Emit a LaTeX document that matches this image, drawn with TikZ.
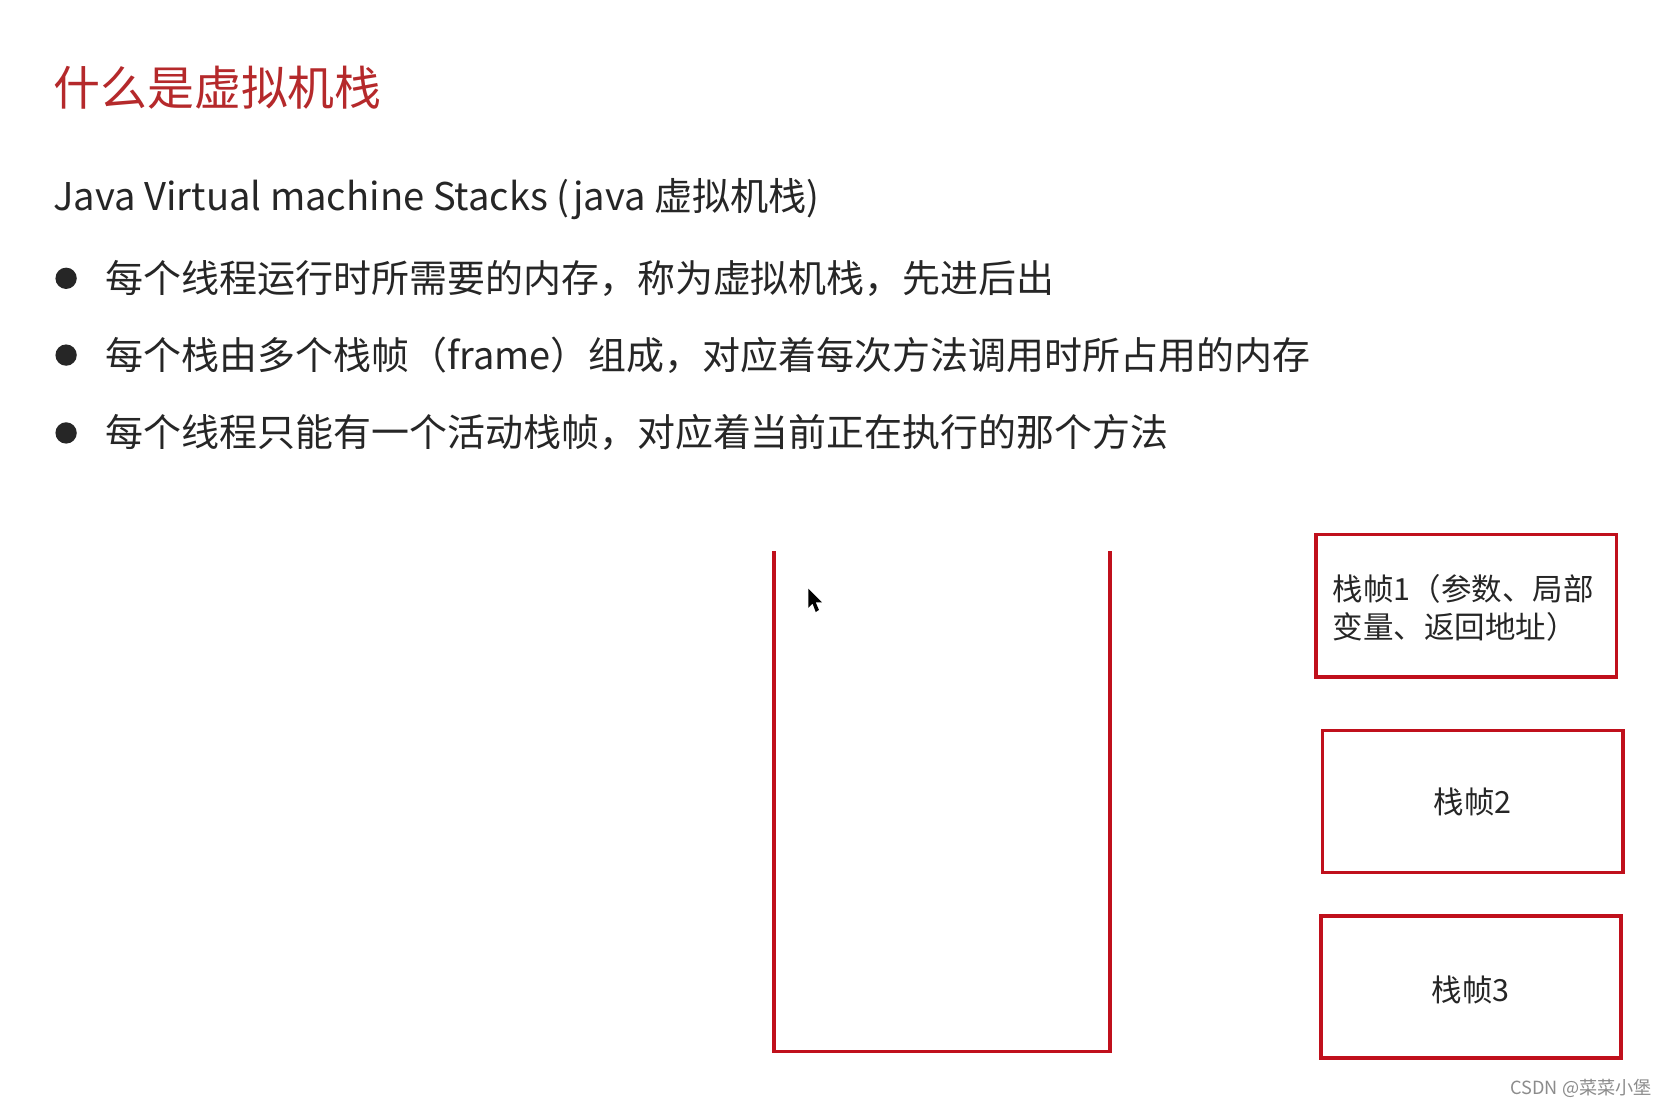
\documentclass[tikz,border=0pt]{standalone}
\usepackage{fontspec}
\setmainfont{Noto Sans CJK SC}
\definecolor{tred}{HTML}{B5292B}
\definecolor{bred}{HTML}{C0101C}
\tikzset{
  bl/.style={anchor=west,font=\fontsize{17.8}{21}\selectfont,text=black!85},
  frame/.style={draw=bred,line width=1.6pt},
  ftext/.style={font=\fontsize{14.3}{17.5}\selectfont,text=black!85}
}
\begin{document}
\begin{tikzpicture}[x=0.5pt,y=-0.5pt]
\useasboundingbox[fill=white] (0,0) rectangle (1568,1038);
\node[anchor=west,text=tred,font=\fontsize{22}{26}\selectfont] (title) at (43,82) {什么是虚拟机栈};
\node[anchor=west,font=\fontsize{17.9}{21}\selectfont,text=black!85] (sub) at (43,187) {Java Virtual machine Stacks (java 虚拟机栈)};
\foreach \y/\t [count=\i] in {261/每个线程运行时所需要的内存，称为虚拟机栈，先进后出,333/每个栈由多个栈帧（frame）组成，对应着每次方法调用时所占用的内存,406/每个线程只能有一个活动栈帧，对应着当前正在执行的那个方法}{
  \fill[black!85] (62,\y) circle (10);
  \node[bl] (b\i) at (92,\y) {\t};
}
\draw[frame] (726,517) -- (726,986) -- (1041,986) -- (1041,517);
\fill[black] (758,552) -- (758,570) -- (762,566) -- (765,574) -- (768,572) -- (765,565) -- (771,565) -- cycle;
\draw[frame] (1234,501) rectangle (1516,635);
\node[ftext,anchor=north west,align=left] (f1) at (1243,532) {栈帧1（参数、局部\\变量、返回地址）};
\draw[frame] (1240,685) rectangle (1522,818);
\node[ftext] (f2) at (1381,752) {栈帧2};
\draw[frame] (1239,859) rectangle (1520,992);
\node[ftext] (f3) at (1379,928) {栈帧3};
\node[anchor=east,text=black!45,font=\fontsize{8.5}{10}\selectfont] (wm) at (1556,1021) {CSDN @菜菜小堡};
\end{tikzpicture}
\end{document}
